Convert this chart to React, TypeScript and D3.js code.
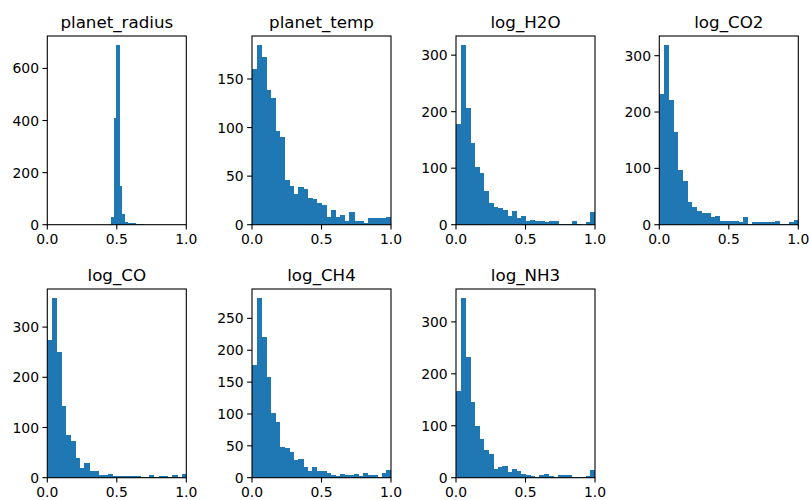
import React from 'react';
import * as d3 from 'd3';

// histogram counts, 30 equal bins over [0, 1]
const titles = ['planet_radius', 'planet_temp', 'log_H2O', 'log_CO2', 'log_CO', 'log_CH4', 'log_NH3'];

const planetRadius = [30, 410, 690, 150, 40, 10, 8, 5, 5, 3, 2, 1];
const radiusBinStart = 0.458;
const radiusBinWidth = 0.0195;

const planetTemp = [160, 185, 173, 139, 130, 96, 90, 46, 40, 32, 39, 37, 27, 26, 22,
  20, 8, 15, 8, 10, 4, 13, 4, 4, 2, 7, 7, 7, 7, 8];
const logH2O = [178, 318, 206, 144, 102, 92, 59, 39, 31, 29, 26, 15, 25, 11, 15,
  6, 9, 6, 6, 4, 6, 6, 2, 2, 2, 6, 2, 0, 4, 22];
const logCO2 = [232, 319, 221, 164, 97, 78, 41, 31, 25, 21, 20, 14, 15, 7, 7,
  7, 7, 5, 13, 2, 4, 5, 5, 4, 4, 6, 2, 2, 4, 8];
const logCO = [275, 358, 251, 143, 86, 73, 40, 19, 29, 13, 13, 5, 5, 7, 3,
  3, 3, 3, 3, 3, 2, 1, 5, 2, 3, 3, 1, 5, 1, 7];
const logCH4 = [177, 282, 220, 158, 101, 88, 48, 46, 40, 27, 30, 17, 11, 17, 11,
  10, 8, 4, 3, 6, 5, 4, 6, 2, 8, 4, 5, 1, 7, 12];
const logNH3 = [167, 346, 232, 146, 99, 74, 54, 46, 16, 20, 22, 11, 16, 13, 8,
  5, 3, 2, 5, 8, 4, 2, 5, 5, 5, 2, 2, 2, 4, 14];

const xTickValues = [0, 0.5, 1];
const yTickSets = [
  [0, 200, 400, 600],
  [0, 50, 100, 150],
  [0, 100, 200, 300],
  [0, 100, 200, 300],
  [0, 100, 200, 300],
  [0, 50, 100, 150, 200, 250],
  [0, 100, 200, 300],
];

const series = [planetRadius, planetTemp, logH2O, logCO2, logCO, logCH4, logNH3];

const colLeft = [47.3, 252, 456, 659.3];
const rowTop = [36, 289];
const axW = 139;
const axH = 188.7;
const blue = '#1f77b4';
const tickFont = 13.9;
const titleFont = 16.7;

type PanelProps = { idx: number };

const Panel = ({ idx }: PanelProps) => {
  const counts = series[idx];
  const left = colLeft[idx % 4];
  const top = rowTop[Math.floor(idx / 4)];
  const bins = counts.map((c, i) => {
    const x0 = idx === 0 ? radiusBinStart + i * radiusBinWidth : i / counts.length;
    const x1 = idx === 0 ? x0 + radiusBinWidth : (i + 1) / counts.length;
    return { x0, x1, c };
  });

  const x = d3.scaleLinear().domain([0, 1]).range([0, axW]);
  const y = d3.scaleLinear().domain([0, d3.max(counts)! * 1.05]).range([axH, 0]);

  return (
    <g transform={`translate(${left},${top})`}>
      <defs>
        <clipPath id={`clip${idx}`}>
          <rect x={0} y={0} width={axW} height={axH} />
        </clipPath>
      </defs>
      <g clipPath={`url(#clip${idx})`}>
        {bins.map((b, i) => (
          <rect key={i} x={x(b.x0)} y={y(b.c)} width={x(b.x1) - x(b.x0) + 0.6}
            height={axH - y(b.c)} fill={blue} shapeRendering="crispEdges" />
        ))}
      </g>
      <rect x={0} y={0} width={axW} height={axH} fill="none" stroke="#000" strokeWidth={1.1} />
      {xTickValues.map(t => (
        <g key={t} transform={`translate(${x(t)},${axH})`}>
          <line y1={0} y2={4.9} stroke="#000" strokeWidth={1.1} />
          <text y={19.6} textAnchor="middle" fontSize={tickFont}>{t.toFixed(1)}</text>
        </g>
      ))}
      {yTickSets[idx].map(t => (
        <g key={t} transform={`translate(0,${y(t)})`}>
          <line x1={0} x2={-4.9} stroke="#000" strokeWidth={1.1} />
          <text x={-8.3} y={5} textAnchor="end" fontSize={tickFont}>{t}</text>
        </g>
      ))}
      <text x={axW / 2} y={-8.3} textAnchor="middle" fontSize={titleFont}>{titles[idx]}</text>
    </g>
  );
};

export default function App() {
  return (
    <svg width={809} height={500}
      style={{ position: 'absolute', left: 0, top: 0, background: '#fff' }}
      fontFamily="DejaVu Sans, sans-serif">
      {titles.map((_, i) => <Panel key={i} idx={i} />)}
    </svg>
  );
}
